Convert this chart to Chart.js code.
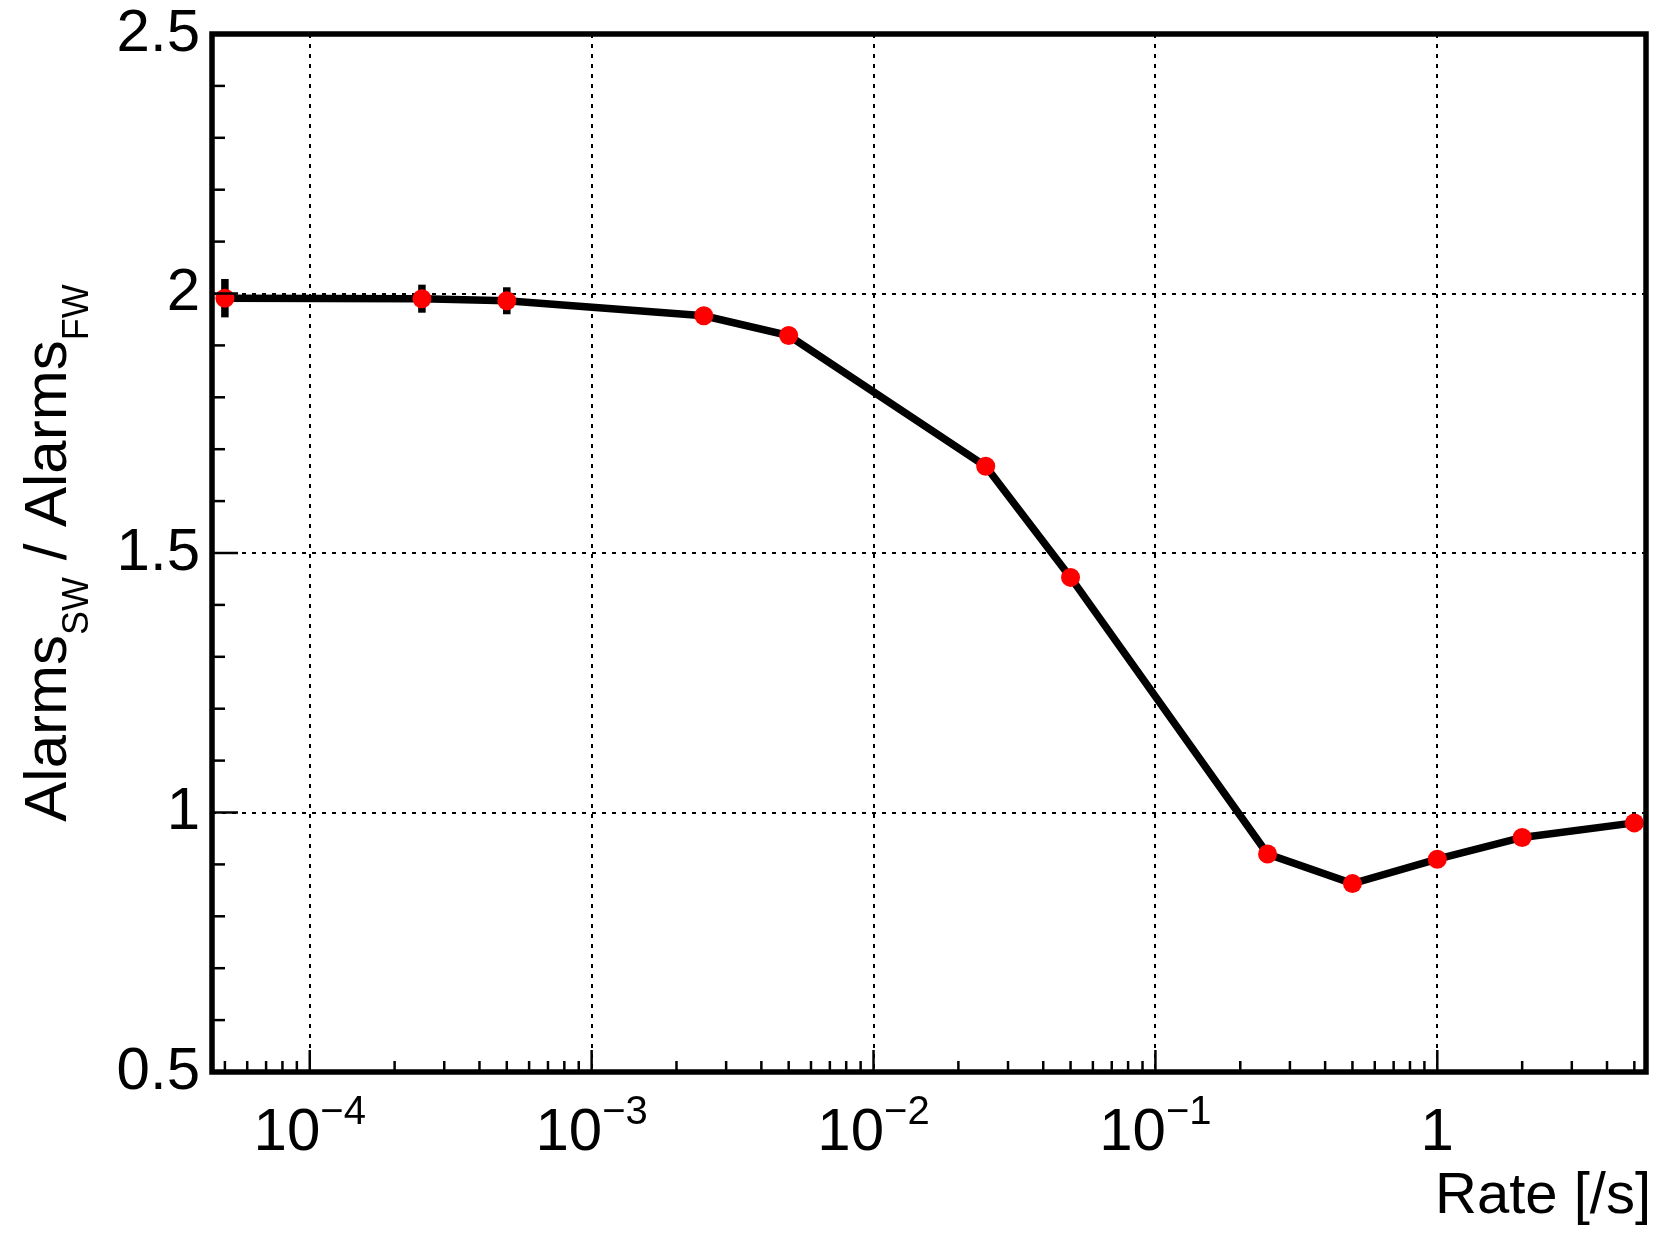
<!DOCTYPE html>
<html><head><meta charset="utf-8">
<script src="https://cdn.jsdelivr.net/npm/chart.js@4/dist/chart.umd.min.js"></script>
<style>html,body{margin:0;padding:0;background:#fff;} #wrap{width:1667px;height:1239px;position:relative;}</style>
</head><body><div id="wrap"><canvas id="c"></canvas></div>
<script>
// ---- data ----
const rates = [5e-5, 2.5e-4, 5e-4, 2.5e-3, 5e-3, 2.5e-2, 5e-2, 0.25, 0.5, 1, 2, 5];
const ratios = [1.991, 1.990, 1.986, 1.957, 1.919, 1.667, 1.453, 0.920, 0.863, 0.910, 0.952, 0.980];
const ratioErrors = [0.037, 0.027, 0.026, 0.012, 0.012, 0.010, 0.010, 0.008, 0.008, 0.008, 0.008, 0.008];
const xMajorTicks = [1e-4, 1e-3, 1e-2, 1e-1, 1];
const xTickBase = ['10', '10', '10', '10', '1'];
const xTickExp = ['\u22124', '\u22123', '\u22122', '\u22121', ''];
const yMajorTicks = [0.5, 1, 1.5, 2, 2.5];
const xTitle = 'Rate [/s]';
const yTitleParts = [['Alarms', 'n'], ['SW', 'sub'], [' / Alarms', 'n'], ['FW', 'sub']];

const FONT = '"Liberation Sans", Arial, Helvetica, sans-serif';

const rootPlugin = {
  id: 'rootStyle',
  beforeDatasetsDraw(chart) {
    const {ctx, chartArea: a, scales: {x, y}} = chart;
    ctx.save();
    ctx.strokeStyle = '#000';
    ctx.lineWidth = 2;
    ctx.setLineDash([4, 6]);
    xMajorTicks.forEach(v => {
      const px = Math.round(x.getPixelForValue(v));
      ctx.beginPath(); ctx.moveTo(px, a.top); ctx.lineTo(px, a.bottom); ctx.stroke();
    });
    yMajorTicks.forEach(v => {
      if (v <= y.min || v >= y.max) return;
      const py = Math.round(y.getPixelForValue(v));
      ctx.beginPath(); ctx.moveTo(a.left, py); ctx.lineTo(a.right, py); ctx.stroke();
    });
    ctx.setLineDash([]);
    // error bars
    ctx.lineWidth = 7.5;
    rates.forEach((r, i) => {
      const px = x.getPixelForValue(r);
      ctx.beginPath();
      ctx.moveTo(px, y.getPixelForValue(ratios[i] - ratioErrors[i]));
      ctx.lineTo(px, y.getPixelForValue(ratios[i] + ratioErrors[i]));
      ctx.stroke();
    });
    ctx.restore();
  },
  afterDraw(chart) {
    const {ctx, chartArea: a, scales: {x, y}} = chart;
    ctx.save();
    ctx.strokeStyle = '#000';
    ctx.fillStyle = '#000';
    // ticks (inside frame)
    ctx.lineWidth = 2.5;
    const lx = Math.floor(Math.log10(x.min)), hx = Math.ceil(Math.log10(x.max));
    for (let d = lx; d <= hx; d++) {
      for (let m = 1; m <= 9; m++) {
        const v = m * Math.pow(10, d);
        if (v < x.min || v > x.max) continue;
        const px = x.getPixelForValue(v);
        const len = m === 1 ? 22 : 11;
        ctx.beginPath(); ctx.moveTo(px, a.bottom); ctx.lineTo(px, a.bottom - len); ctx.stroke();
      }
    }
    for (let k = 0; k <= 20; k++) {
      const v = y.min + k * 0.1;
      const py = y.getPixelForValue(v);
      const len = (k % 5 === 0) ? 26 : 13;
      ctx.beginPath(); ctx.moveTo(a.left, py); ctx.lineTo(a.left + len, py); ctx.stroke();
    }
    // frame
    ctx.lineWidth = 5.5;
    ctx.strokeRect(a.left, a.top, a.right - a.left, a.bottom - a.top);
    // x tick labels
    ctx.textBaseline = 'alphabetic';
    ctx.textAlign = 'left';
    xMajorTicks.forEach((v, i) => {
      const px = x.getPixelForValue(v);
      ctx.font = '60px ' + FONT;
      const wb = ctx.measureText(xTickBase[i]).width;
      ctx.font = '40px ' + FONT;
      const we = xTickExp[i] ? ctx.measureText(xTickExp[i]).width : 0;
      const start = px - (wb + we) / 2;
      ctx.font = '60px ' + FONT;
      ctx.fillText(xTickBase[i], start, 1150);
      if (xTickExp[i]) {
        ctx.font = '40px ' + FONT;
        ctx.fillText(xTickExp[i], start + wb, 1124);
      }
    });
    // x title
    ctx.font = '58px ' + FONT;
    ctx.textAlign = 'right';
    ctx.fillText(xTitle, a.right + 5, 1213);
    // y title
    ctx.textAlign = 'left';
    ctx.translate(66, (a.top + a.bottom) / 2);
    ctx.rotate(-Math.PI / 2);
    let total = 0;
    const widths = yTitleParts.map(([t, k]) => {
      ctx.font = (k === 'sub' ? '36px ' : '60px ') + FONT;
      const w = ctx.measureText(t).width; total += w; return w;
    });
    let cx = -total / 2;
    yTitleParts.forEach(([t, k], i) => {
      ctx.font = (k === 'sub' ? '36px ' : '60px ') + FONT;
      ctx.fillText(t, cx, k === 'sub' ? 22 : 0);
      cx += widths[i];
    });
    ctx.restore();
  }
};

new Chart(document.getElementById('c'), {
  type: 'line',
  data: {
    datasets: [{
      data: rates.map((r, i) => ({x: r, y: ratios[i]})),
      borderColor: '#000',
      borderWidth: 7.5,
      tension: 0,
      pointRadius: 9.5,
      pointHoverRadius: 9.5,
      pointBackgroundColor: '#ff0000',
      pointBorderWidth: 0,
      pointBorderColor: '#ff0000',
      fill: false
    }]
  },
  options: {
    responsive: true,
    maintainAspectRatio: false,
    animation: false,
    events: [],
    layout: {padding: {top: 34, right: 21, bottom: 0, left: 0}},
    plugins: {legend: {display: false}, tooltip: {enabled: false}, title: {display: false}},
    scales: {
      x: {
        type: 'logarithmic',
        min: 4.5e-5,
        max: 5.5,
        grid: {display: false, drawTicks: false},
        border: {display: false},
        ticks: {display: false},
        afterFit: s => { s.height = 167; s.paddingLeft = 0; s.paddingRight = 0; }
      },
      y: {
        type: 'linear',
        min: 0.5,
        max: 2.5,
        grid: {display: false, drawTicks: false},
        border: {display: false},
        ticks: {
          stepSize: 0.5,
          color: '#000',
          padding: 12,
          font: {family: FONT, size: 60, lineHeight: 1},
          callback: v => String(v)
        },
        afterFit: s => { s.width = 212; s.paddingTop = 0; s.paddingBottom = 0; }
      }
    }
  },
  plugins: [rootPlugin]
});
</script>
</body></html>
